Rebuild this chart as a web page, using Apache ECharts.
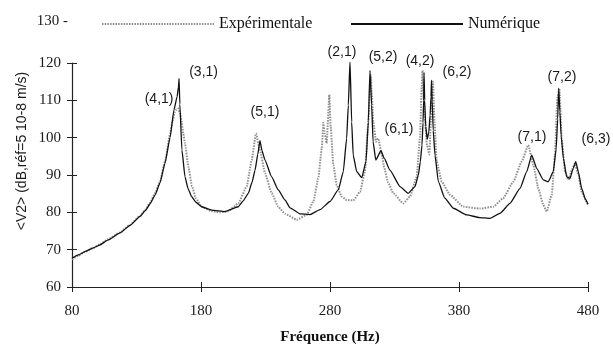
<!DOCTYPE html>
<html><head><meta charset="utf-8">
<script src="https://cdn.jsdelivr.net/npm/echarts@6/dist/echarts.min.js"></script>
<style>html,body{margin:0;padding:0;background:#fff}#c{width:613px;height:346px}</style>
</head><body><div id="c"></div>
<script>
// Numérique (computed) curve
const numFreq = [80,85,90,96,101.7,108,117.2,125,132.7,137,140.5,144.5,148.2,152.1,156,159,161.5,162.5,163,163.6,165.2,167.6,170,172.8,176,180.5,188.3,198.6,208.9,212.5,216.7,219.5,221.9,224,225.7,227.3,229.6,234.8,239.9,245.1,249,256.7,264.5,272.2,280,286.4,290.3,292.9,294.2,295.5,296.8,298,300.7,304.6,307.9,309.7,311,312.3,313.4,315.5,319.5,322,326.5,334.3,340.7,345.9,348.5,350,351.3,352.1,352.6,352.9,353.4,354.2,355.4,356.6,357.6,358.3,358.7,359.2,360,361.4,364,369,375.6,386,396,404,412,419.5,427.3,432.5,436.4,440.2,445.3,449.2,453.1,455.3,456.5,457.3,458.2,459.2,460.9,463.5,466,468.6,470.5,472.5,475.1,478,480];
const numVal = [67.7,68.6,69.5,70.4,71.3,72.6,74.5,76.5,78.9,80.5,82.3,84.7,87.9,93.2,100,107.4,111,113.5,115.8,109,96.7,89.5,86.3,84.2,82.7,81.5,80.6,80.2,81.5,83,85.1,88,91.3,95.5,99.2,96.5,94,89.5,86,83.3,81.2,79.6,79.4,80.7,82.9,86,90.9,99.8,108.7,120.5,104.2,95.3,90.9,89.3,93.6,104.2,118,108.7,98.9,94,96.5,94.5,91.3,86.9,85.1,86.9,90,93.5,98,104,110,117.5,110,103,99.6,101.5,106,111,115.4,110,102,95.3,88.2,83.8,81.1,79.3,78.6,78.4,79.8,82.4,86.4,90.9,95.3,91.8,88.7,88.2,90.9,97,105,113.2,107,100.5,94.5,89.5,89.1,91.8,93.6,90.9,86.4,83.5,82.2];
// Expérimentale (measured) curve
const expFreq = [80,85,90,96,101.7,108,117.2,125,132.7,137,140.5,144.5,148.2,152.1,156,158,159.8,161,162.4,163.8,165,166.3,167.6,170.2,173,176,180.5,188,195,201,208.9,215.4,219.3,222.6,225.7,229.6,234.8,239.9,245.1,254.2,261.9,267.1,270.9,273.6,274.8,276,277.4,279.5,280.5,282.6,285.2,289.1,292.9,298.1,303.3,307.1,309.7,311,311.6,312.3,313.6,315.7,317.4,320.1,322,325,329.1,336.8,342,347.2,349.8,351.1,351.7,352.4,353.3,355.2,357,358.3,359.8,361,362.7,366.6,373,383.3,396.3,406.6,414.3,422.1,428.6,433.7,437.6,441.5,445.3,448,451.9,454.4,456.2,457.8,459.6,462.2,464.8,467.4,469.9,472.5,475.1,478.7,480];
const expVal = [67.4,68.4,69.4,70.4,71.4,72.8,74.6,76.7,79,80.8,82.6,85.2,88.2,93.6,101,104.5,106.9,107.6,107.8,106.5,104.2,101,98.5,92.2,87,83.8,81.5,80.3,80,80.3,82.4,86.9,94,101.1,96.7,90.5,85.1,81.5,79.6,78,79.3,82.9,89.1,97.1,104,101,98.5,111.5,103,92.7,87.3,84.2,83.3,83.2,85.5,90.9,104.2,113,116.7,112,104.2,98.9,99.8,95.5,92,88,85.1,82.4,84.2,89.5,100.2,113.6,118,113,106,98,95.5,105,115,104,93.6,88.2,84.7,81.5,81,81.5,83.8,88.2,93.6,98,92.7,86.4,82,80.2,84.7,95.3,110.5,113.2,99.8,90.9,88.7,91.3,93.1,90,85.5,82.9,81.8];
// Mode labels
const modeLabels = ['(4,1)','(3,1)','(5,1)','(2,1)','(5,2)','(4,2)','(6,2)','(6,1)','(7,1)','(7,2)','(6,3)'];
const modeF = [147.5,182,229.6,289.3,321.1,349.8,378.4,333.5,436.6,459.8,486.2];
const modeV = [110.3,117.5,106.9,122.9,121.7,120.5,117.6,102.2,100.2,116.3,99.6];
const xMin = 80, xMax = 480, xStep = 100;
const yMin = 60, yMax = 120, yStep = 10;
const topTickLabel = '130 -';

const chart = echarts.init(document.getElementById('c'));
const zip = (a, b) => a.map((v, i) => [v, b[i]]);
const tickFont = {fontFamily: 'Liberation Serif', fontSize: 15, color: '#1a1a1a'};
const axisCommon = {
  axisLine: {show: true, lineStyle: {color: '#222', width: 1.2}},
  splitLine: {show: false}
};
const legendCommon = {top: 11, itemWidth: 112, itemHeight: 12, itemGap: 0,
  itemStyle: {opacity: 0},
  textStyle: {fontFamily: 'Liberation Serif', fontSize: 16, color: '#111'}};
const baseGraphic = [
  {type: 'text', x: 22, y: 151, rotation: Math.PI / 2,
   style: {text: '<V2> (dB,réf=5 10-8 m/s)', align: 'center', verticalAlign: 'middle',
           font: '14px "Liberation Sans"', fill: '#1a1a1a'}},
  {type: 'text', x: 68, y: 21,
   style: {text: topTickLabel, align: 'right', verticalAlign: 'middle',
           font: '15px "Liberation Serif"', fill: '#1a1a1a'}}
];
chart.setOption({
  animation: false,
  backgroundColor: '#fff',
  grid: {left: 72, right: 25, top: 63, bottom: 59, containLabel: false, outerBoundsMode: 'none'},
  legend: [
    Object.assign({data: ['Expérimentale'], left: 96}, legendCommon),
    Object.assign({data: ['Numérique'], left: 345}, legendCommon)
  ],
  xAxis: [
    Object.assign({type: 'value', min: xMin, max: xMax, interval: xStep,
      axisTick: {show: true, inside: false, length: 5, lineStyle: {color: '#222'}},
      axisLabel: Object.assign({margin: 17}, tickFont),
      name: 'Fréquence (Hz)', nameLocation: 'middle', nameGap: 43,
      nameTextStyle: {fontFamily: 'Liberation Serif', fontSize: 15, fontWeight: 'bold', color: '#111'}
    }, axisCommon),
    {type: 'value', min: xMin, max: xMax, interval: xStep, position: 'bottom',
      axisLine: {show: false}, splitLine: {show: false}, axisLabel: {show: false},
      axisTick: {show: true, inside: true, length: 5, lineStyle: {color: '#222'}}}
  ],
  yAxis: [
    Object.assign({type: 'value', min: yMin, max: yMax, interval: yStep,
      axisTick: {show: true, inside: false, length: 5, lineStyle: {color: '#222'}},
      axisLabel: Object.assign({margin: 11}, tickFont)
    }, axisCommon),
    {type: 'value', min: yMin, max: yMax, interval: yStep, position: 'left',
      axisLine: {show: false}, splitLine: {show: false}, axisLabel: {show: false},
      axisTick: {show: true, inside: true, length: 5, lineStyle: {color: '#222'}}}
  ],
  graphic: baseGraphic,
  series: [
    {name: 'Expérimentale', type: 'line', data: zip(expFreq, expVal), showSymbol: false, symbol: 'none',
     itemStyle: {color: '#8a8a8a'}, smooth: 0.15, smoothMonotone: 'x',
     lineStyle: {color: '#8f8f8f', width: 2, type: [1.5, 1.2]}, z: 2},
    {name: 'Numérique', type: 'line', data: zip(numFreq, numVal), showSymbol: false, symbol: 'none',
     itemStyle: {color: '#111'}, smooth: 0.15, smoothMonotone: 'x',
     lineStyle: {color: '#111', width: 1.3}, z: 3}
  ]
});
const labelGraphic = modeLabels.map((t, i) => {
  const p = chart.convertToPixel({gridIndex: 0}, [modeF[i], modeV[i]]);
  return {type: 'text', x: p[0], y: p[1],
    style: {text: t, align: 'center', verticalAlign: 'middle',
            font: '14px "Liberation Sans"', fill: '#1a1a1a'}};
});
chart.setOption({graphic: baseGraphic.concat(labelGraphic)});
</script></body></html>
